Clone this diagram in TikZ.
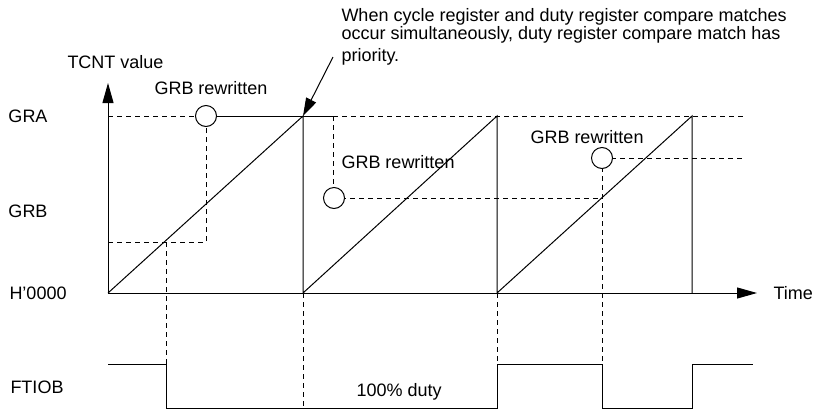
\documentclass[tikz,border=0pt]{standalone}
\usepackage{fontspec}
\setmainfont{Liberation Sans}
\usetikzlibrary{arrows.meta}
\begin{document}
\begin{tikzpicture}[x=1pt,y=-1pt,
  line width=1pt,
  dsh/.style={dash pattern=on 5pt off 4pt},
  lbl/.style={anchor=base west, inner sep=0pt, font=\fontsize{18}{20}\selectfont},
  circ/.style={circle, draw, fill=white, minimum size=21pt, inner sep=0pt},
  tip/.style={-{Triangle[length=20pt,width=11pt]}}]
\useasboundingbox (0,0) rectangle (818,410);
% key points
\coordinate (O) at (108,293);
\coordinate (Ytop) at (108,83);
\coordinate (Xend) at (757,293);
\coordinate (A1) at (303,116);
\coordinate (A2) at (497,116);
\coordinate (A3) at (692,116);
\coordinate (Z1) at (303,293);
\coordinate (Z2) at (497,293);
\coordinate (Z3) at (692,293);
% dashed reference lines
\draw[dsh] (108,116) -- (745,116);
\draw[dsh] (108,242) -- (206,242) -- (206,116);
\draw[dsh] (333,116) -- (333,198) -- (602,198);
\draw[dsh] (602,158) -- (745,158);
\draw[dsh] (166,242) -- (166,364);
\draw[dsh] (Z1) -- (303,408);
\draw[dsh] (Z2) -- (497,364);
\draw[dsh] (602,158) -- (602,364);
% GRB at GRA level (solid)
\draw (206,116) -- (333,116);
% ramps
\draw (O) -- (A1) -- (Z1) -- (A2) -- (Z2) -- (A3) -- (Z3);
% axes
\draw[tip] (O) -- (Ytop);
\draw[tip] (O) -- (Xend);
% circles
\node[circ] (c1) at (206,116) {};
\node[circ] (c2) at (334,198) {};
\node[circ] (c3) at (602,158) {};
% FTIOB waveform
\draw (108,364) -- (166,364) -- (166,408) -- (497,408) -- (497,364) -- (602,364) -- (602,408) -- (692,408) -- (692,364) -- (753,364);
% labels
\node[lbl] (tcnt) at (67,68) {TCNT value};
\node[lbl] (gra) at (8,122.5) {GRA};
\node[lbl] (grb) at (8,217.5) {GRB};
\node[lbl] (zero) at (9,299.5) {H'0000};
\node[lbl] (ftiob) at (10,393.5) {FTIOB};
\node[lbl] (time) at (773,299) {Time};
\node[lbl] (rw1) at (154,94) {GRB rewritten};
\node[lbl] (rw2) at (341,168) {GRB rewritten};
\node[lbl] (rw3) at (530,143) {GRB rewritten};
\node[lbl] (duty) at (356,396) {100\% duty};
\node[lbl] (n1) at (341,21) {When cycle register and duty register compare matches};
\node[lbl] (n2) at (341,39.5) {occur simultaneously, duty register compare match has};
\node[lbl] (n3) at (341,61.5) {priority.};
\coordinate (ar) at (333,57);
\draw[-{Triangle[length=18pt,width=11pt]}] (ar) -- (A1);
\end{tikzpicture}
\end{document}
